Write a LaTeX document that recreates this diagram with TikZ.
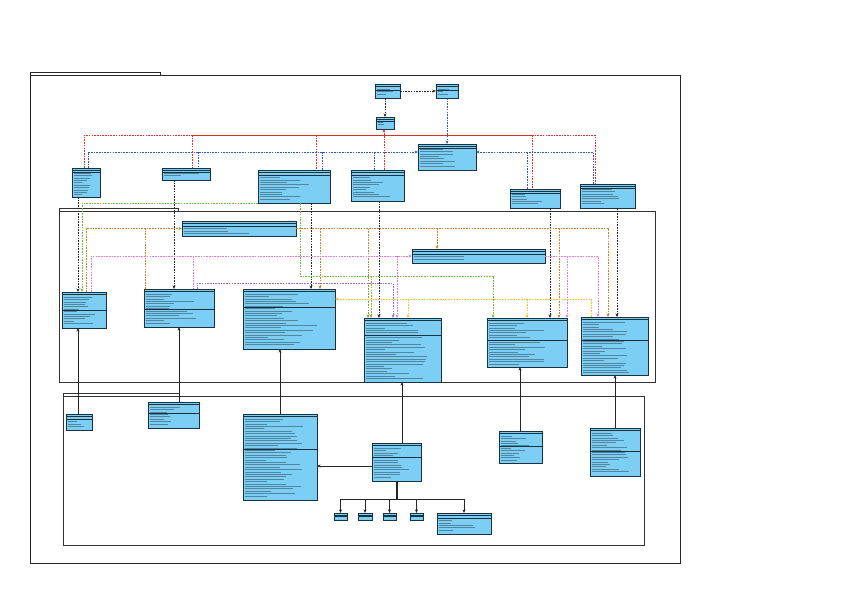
\documentclass[tikz,border=0pt]{standalone}
\usetikzlibrary{arrows.meta}
\definecolor{boxfill}{RGB}{125,206,245}
\definecolor{boxline}{RGB}{25,50,65}
\definecolor{dred}{RGB}{225,45,40}
\definecolor{dblue}{RGB}{40,90,200}
\definecolor{dgreen}{RGB}{110,190,60}
\definecolor{dorange}{RGB}{200,130,30}
\definecolor{dpink}{RGB}{225,120,225}
\definecolor{dpurple}{RGB}{150,110,210}
\definecolor{dyellow}{RGB}{240,195,20}
\tikzset{
  cbox/.style={draw=boxline, fill=boxfill, line width=1pt, anchor=north west, inner sep=0pt, outer sep=0pt},
  cline/.style={draw=boxline, line width=0.7pt},
  tline/.style={draw=boxline, line width=0.35pt, opacity=0.45},
  tip/.style={-{Stealth[length=3.6pt,width=3pt]}},
  dep/.style={dash pattern=on 1.6pt off 1.1pt, line width=0.65pt},
  kdep/.style={dep, draw=black!85},
  rdep/.style={dep, draw=dred},
  bdep/.style={dep, draw=dblue},
  gdep/.style={dep, draw=dgreen},
  odep/.style={dep, draw=dorange},
  pdep/.style={dep, draw=dpink},
  udep/.style={dep, draw=dpurple},
  ydep/.style={dep, draw=dyellow},
  solid link/.style={draw=black!85, line width=0.9pt},
  frame/.style={draw=black!85, line width=1pt},
  pkg/.style={draw=black!80, line width=0.9pt},
}
\newcommand\cls[6]{%
  \node[cbox,minimum width={(#4-#2)*1pt},minimum height={(#5-#3)*1pt}] (#1) at (#2,#3) {};
  \draw[cline] (#2,#3+2.6) -- (#4,#3+2.6);
  \draw[cline] (#2,#6) -- (#4,#6);
  \pgfmathtruncatemacro\nl{floor((#5-#3-5)/2.4)}%
  \ifnum\nl>0
  \foreach \k in {1,...,\nl}{%
    \pgfmathsetmacro\yy{#3+2.6+2.4*\k}%
    \pgfmathsetmacro\ww{(#4-#2-5)*(0.25+0.6*rnd)}%
    \draw[tline] (#2+2,\yy) -- ++(\ww,0);
  }%
  \fi
}
\begin{document}
\begin{tikzpicture}[x=1pt,y=-1pt]
\pgfmathsetseed{11}
\fill[white] (0,0) rectangle (842,595);
\useasboundingbox (0,0) rectangle (842,595);
% frames
\draw[frame] (30,72.5) rectangle (160,75);
\draw[frame] (30,75) rectangle (680,563);
\draw[pkg] (59,208) rectangle (178,211);
\draw[pkg] (59,211) rectangle (655,382);
\draw[pkg] (63,393) rectangle (179,396);
\draw[pkg] (63,396) rectangle (644,545);
% top classes
\cls{A}{375}{84}{400}{98}{90}
\cls{B}{436}{84}{458}{98}{90}
\cls{C}{376}{117}{394}{129}{121}
\cls{D}{418}{144}{476}{170}{148}
\cls{E}{72}{168}{100}{197}{172}
\cls{F}{162}{168}{210}{180}{172}
\cls{G}{258}{170}{330}{203}{175}
\cls{H}{351}{170}{404}{201}{175}
\cls{I}{510}{189}{560}{208}{193}
\cls{J}{580}{184}{635}{208}{188}
% middle classes
\cls{K}{182}{221}{296}{236}{226}
\cls{L}{412}{249}{545}{263}{254}
\cls{M1}{62}{292}{106}{328}{310}
\cls{M2}{144}{289}{214}{327}{309}
\cls{M3}{243}{289}{335}{349}{307}
\cls{M4}{364}{318}{441}{382}{335}
\cls{M5}{487}{318}{567}{367}{340}
\cls{M6}{581}{317}{648}{375}{340}
% bottom classes
\cls{N1}{66}{414}{92}{430}{419}
\cls{N2}{148}{402}{199}{428}{413}
\cls{N3}{243}{414}{317}{500}{449}
\cls{N4}{372}{443}{421}{481}{457}
\cls{N5}{499}{431}{542}{463}{446}
\cls{N6}{590}{428}{640}{476}{451}
\cls{S1}{334}{513}{347}{520}{516}
\cls{S2}{358}{513}{372}{520}{516}
\cls{S3}{383}{513}{396}{520}{516}
\cls{S4}{410}{513}{423}{520}{516}
\cls{N7}{437}{513}{491}{534}{518}
% top dependencies
\draw[kdep,tip] (A.east) -- (B.west);
\draw[kdep,tip] (C.north |- A.south) -- (C.north);
\draw[bdep,tip] (B.south) -- (B.south |- D.north);
\draw[rdep] (84,0 |- E.north) -- (84,135) -- (192,135);
\draw[draw=dred, line width=0.8pt] (192,135) -- (532,135);
\draw[rdep] (532,135) -- (595,135) -- (595,0 |- J.north);
\draw[rdep] (192,135) -- (192,0 |- F.north);
\draw[rdep] (316,135) -- (316,0 |- G.north);
\draw[rdep] (532,135) -- (532,0 |- I.north);
\draw[rdep,tip,line width=0.9pt] (384,0 |- H.north) -- (384,0 |- C.south);
\draw[bdep,tip] (88,0 |- E.north) -- (88,152) -- (D.west |- 0,152);
\draw[bdep] (198,152) -- (198,0 |- F.north);
\draw[bdep] (322,152) -- (322,0 |- G.north);
\draw[bdep] (374,152) -- (374,0 |- H.north);
\draw[bdep,tip] (593,0 |- J.north) -- (593,152) -- (D.east |- 0,152);
\draw[bdep] (527,152) -- (527,0 |- I.north);
% top to middle
\draw[kdep,tip] (78,0 |- E.south) -- (78,0 |- M1.north);
\draw[kdep,tip] (174,0 |- F.south) -- (174,0 |- M2.north);
\draw[kdep,tip] (311,0 |- G.south) -- (311,0 |- M3.north);
\draw[kdep,tip] (379,0 |- H.south) -- (379,0 |- M4.north);
\draw[kdep,tip] (550,0 |- I.south) -- (550,0 |- M5.north);
\draw[kdep,tip] (617,0 |- J.south) -- (617,0 |- M6.north);
% green
\draw[gdep,tip] (G.south west) -| (82,0 |- M1.north);
\draw[gdep,tip] (300,0 |- G.south) -- (300,276) -- (493,276) -- (493,0 |- M5.north);
\draw[gdep,tip] (371,276) -- (371,0 |- M4.north);
% orange
\draw[odep,tip] (86,0 |- M1.north) |- (K.west);
\draw[odep] (145,0 |- M2.north) -- (145,0 |- K.west);
\draw[odep,tip] (K.east) -- (608,0 |- K.east) -- (608,0 |- M6.north);
\draw[odep,tip] (320,0 |- K.east) -- (320,0 |- M3.north);
\draw[odep,tip] (368,0 |- K.east) -- (368,0 |- M4.north);
\draw[odep,tip] (437,0 |- K.east) -- (437,0 |- L.north);
\draw[odep,tip] (559,0 |- K.east) -- (559,0 |- M5.north);
% pink / purple
\draw[pdep,tip] (91,0 |- M1.north) |- (L.west);
\draw[pdep] (193,0 |- L.west) -- (193,0 |- M2.north);
\draw[pdep,tip] (L.east) -| (598,0 |- M6.north);
\draw[pdep,tip] (567,0 |- L.east) -- (567,0 |- M5.north);
\draw[pdep,tip] (397,0 |- L.west) -- (397,0 |- M4.north);
\draw[udep,tip] (197,0 |- M2.north) -- (197,283) -- (393,283) -- (393,0 |- M4.north);
% yellow
\draw[ydep,tip] (591,0 |- M6.north) -- (591,299) -- (M3.east |- 0,299);
\draw[ydep,tip] (408,299) -- (408,0 |- M4.north);
\draw[ydep,tip] (527,299) -- (527,0 |- M5.north);
% bottom solid links
\draw[solid link,tip] (78,0 |- N1.north) -- (78,0 |- M1.south);
\draw[solid link,tip] (179,0 |- N2.north) -- (179,0 |- M2.south);
\draw[solid link,tip] (280,0 |- N3.north) -- (280,0 |- M3.south);
\draw[solid link,tip] (402,0 |- N4.north) -- (402,0 |- M4.south);
\draw[solid link,tip] (520,0 |- N5.north) -- (520,0 |- M5.south);
\draw[solid link,tip] (615,0 |- N6.north) -- (615,0 |- M6.south);
\draw[solid link,tip] (N4.west |- 0,466) -- (N3.east |- 0,466);
\coordinate (br) at (397,499);
\draw[solid link,line width=1.5pt] (397,0 |- N4.south) -- (br);
\draw[solid link] (S1.north |- br) -- (N7.north |- br);
\draw[solid link,tip] (S1.north |- br) -- (S1.north);
\draw[solid link,tip] (S2.north |- br) -- (S2.north);
\draw[solid link,tip] (S3.north |- br) -- (S3.north);
\draw[solid link,tip] (S4.north |- br) -- (S4.north);
\draw[solid link,tip] (N7.north |- br) -- (N7.north);
\end{tikzpicture}
\end{document}
